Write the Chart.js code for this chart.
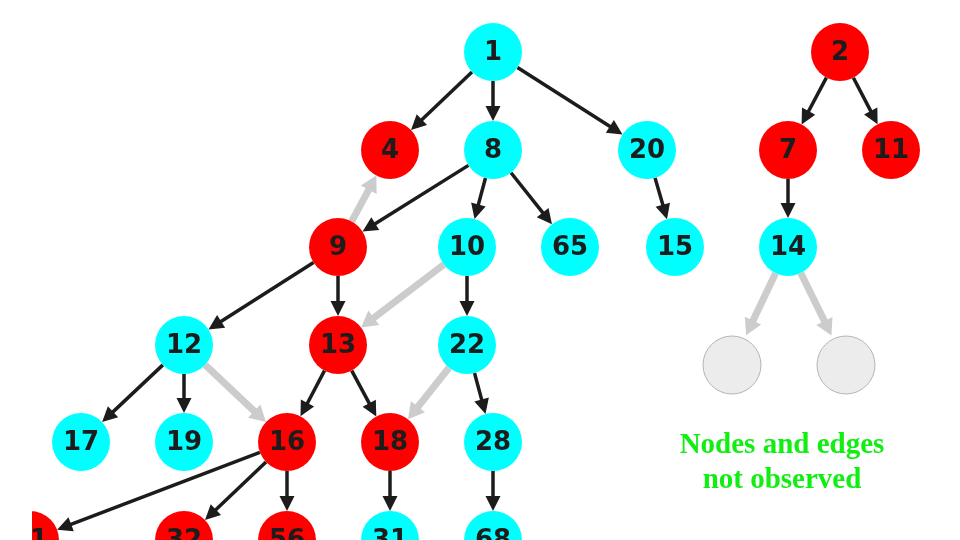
<!DOCTYPE html>
<html>
<head>
<meta charset="utf-8">
<script src="https://cdn.jsdelivr.net/npm/chart.js@4.4.1/dist/chart.umd.min.js"></script>
<style>
  html, body { margin: 0; padding: 0; background: #fff; }
  #wrap { width: 960px; height: 540px; }
</style>
</head>
<body>
<div id="wrap"><canvas id="graph" width="960" height="540"></canvas></div>
<script>
// node data: label, position on the 960x540 layout grid, state
const nodeLabels = ['1', '4', '8', '20', '9', '10', '65', '15', '12', '13', '22', '17', '19', '16', '18', '28', '21', '32', '56', '31', '68', '2', '7', '11', '14', 'g1', 'g2'];
const nodeX = [493, 390, 493, 647, 338, 467, 570, 675, 184, 338, 467, 81, 184, 287, 390, 493, 30, 184, 287, 390, 493, 840, 788, 891, 788, 732, 846];
const nodeY = [52, 150, 150, 150, 247, 247, 247, 247, 345, 345, 345, 442, 442, 442, 442, 442, 540, 540, 540, 540, 540, 52, 150, 150, 247, 365, 365];
const nodeState = ['c', 'r', 'c', 'c', 'r', 'c', 'c', 'c', 'c', 'r', 'c', 'c', 'c', 'r', 'r', 'c', 'r', 'r', 'r', 'c', 'c', 'r', 'r', 'r', 'c', 'g', 'g'];

// edges: source, target, observed?
const edgeFrom = ['1', '1', '1', '8', '8', '8', '20', '9', '9', '10', '12', '12', '13', '13', '22', '16', '16', '16', '18', '28', '2', '2', '7', '9', '10', '12', '22', '14', '14'];
const edgeTo = ['4', '8', '20', '9', '10', '65', '15', '12', '13', '22', '17', '19', '16', '18', '28', '21', '32', '56', '31', '68', '7', '11', '14', '4', '13', '16', '18', 'g1', 'g2'];
const edgeSeen = [1, 1, 1, 1, 1, 1, 1, 1, 1, 1, 1, 1, 1, 1, 1, 1, 1, 1, 1, 1, 1, 1, 1, 0, 0, 0, 0, 0, 0];

const noteLines = ['Nodes and edges', 'not observed'];

const fillFor = { c: '#00ffff', r: '#ff0000', g: '#ececec' };
const R = 29;

const edgePlugin = {
  id: 'edges',
  beforeDatasetsDraw(chart) {
    const ctx = chart.ctx;
    const xs = chart.scales.x, ys = chart.scales.y;
    ctx.save();
    edgeFrom.forEach((src, i) => {
      const a = nodeLabels.indexOf(src), b = nodeLabels.indexOf(edgeTo[i]);
      const x1 = xs.getPixelForValue(nodeX[a]), y1 = ys.getPixelForValue(nodeY[a]);
      const x2 = xs.getPixelForValue(nodeX[b]), y2 = ys.getPixelForValue(nodeY[b]);
      const len = Math.hypot(x2 - x1, y2 - y1);
      const dx = (x2 - x1) / len, dy = (y2 - y1) / len;
      const seen = edgeSeen[i] === 1;
      const rEnd = nodeState[b] === 'g' ? 33 : R;
      const headL = seen ? 15 : 16, headW = seen ? 7.5 : 9;
      const sx = x1 + dx * R, sy = y1 + dy * R;
      const tx = x2 - dx * rEnd, ty = y2 - dy * rEnd;
      const color = seen ? '#1c1c1c' : '#cccccc';
      ctx.strokeStyle = color;
      ctx.fillStyle = color;
      ctx.lineWidth = seen ? 3.5 : 7;
      ctx.beginPath();
      ctx.moveTo(sx, sy);
      ctx.lineTo(tx - dx * headL * 0.8, ty - dy * headL * 0.8);
      ctx.stroke();
      ctx.beginPath();
      ctx.moveTo(tx, ty);
      ctx.lineTo(tx - dx * headL - dy * headW, ty - dy * headL + dx * headW);
      ctx.lineTo(tx - dx * headL + dy * headW, ty - dy * headL - dx * headW);
      ctx.closePath();
      ctx.fill();
    });
    ctx.restore();
  }
};

const labelPlugin = {
  id: 'labels',
  afterDatasetsDraw(chart) {
    const ctx = chart.ctx;
    const meta = chart.getDatasetMeta(0);
    ctx.save();
    ctx.fillStyle = '#1c1c1c';
    ctx.font = 'bold 26px "DejaVu Sans"';
    ctx.textAlign = 'center';
    ctx.textBaseline = 'middle';
    meta.data.forEach((pt, i) => {
      if (nodeState[i] === 'g') return;
      ctx.fillText(nodeLabels[i], pt.x, pt.y + 1);
    });
    // left edge of the picture is cut off
    ctx.fillStyle = '#ffffff';
    ctx.fillRect(0, 0, 32, chart.height);
    // note under the unobserved part
    ctx.fillStyle = '#11ee11';
    ctx.font = 'bold 29px "Liberation Serif"';
    ctx.fillText(noteLines[0], 782, 446);
    ctx.fillText(noteLines[1], 782, 481);
    ctx.restore();
  }
};

new Chart(document.getElementById('graph'), {
  type: 'scatter',
  data: {
    datasets: [{
      data: nodeX.map((x, i) => ({ x: x, y: nodeY[i] })),
      pointRadius: R,
      pointHoverRadius: R,
      pointBackgroundColor: nodeState.map(s => fillFor[s]),
      pointBorderColor: nodeState.map(s => s === 'g' ? '#b4b4b4' : 'rgba(0,0,0,0)'),
      pointBorderWidth: nodeState.map(s => s === 'g' ? 1 : 0),
      clip: false
    }]
  },
  options: {
    responsive: false,
    animation: false,
    layout: { padding: 0, autoPadding: false },
    plugins: { legend: { display: false }, tooltip: { enabled: false } },
    scales: {
      x: { type: 'linear', min: 0, max: 960, display: false },
      y: { type: 'linear', min: 0, max: 540, reverse: true, display: false }
    }
  },
  plugins: [edgePlugin, labelPlugin]
});
</script>
</body>
</html>
